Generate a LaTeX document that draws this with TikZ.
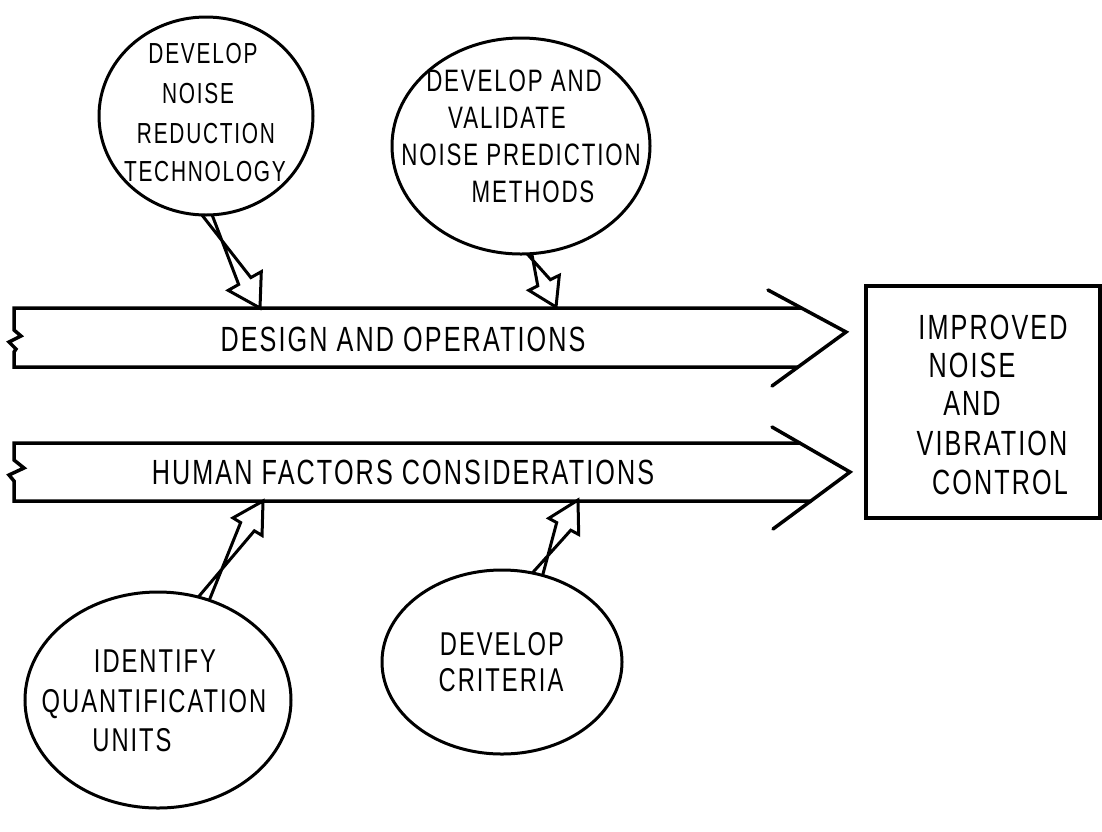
\documentclass[tikz,border=0pt]{standalone}
\usepackage{fontspec}
\setmainfont{Liberation Sans}[FakeStretch=0.72, LetterSpace=6]
\usetikzlibrary{calc,shapes.geometric}

\tikzset{
  ink/.style={line width=3.5pt, line join=miter, line cap=round},
  bubble/.style={draw, ellipse, line width=3pt, fill=white, inner sep=0pt},
  hollow/.style={line width=3pt, line join=miter, line cap=round},
  lbl/.style={font=\fontsize{35}{40}\selectfont, inner sep=0pt,
              text height=25pt, text depth=0pt, anchor=center},
  mlbl/.style={lbl, font=\fontsize{33}{38}\selectfont, text height=24pt},
  nlbl/.style={lbl, font=\fontsize{31}{35}\selectfont, text height=22pt},
  slbl/.style={lbl, font=\fontsize{29}{33}\selectfont, text height=21pt},
}

% hollow block arrow: tail, tip, half shaft width, half head width, head length
\newcommand\blockarrow[5]{%
  \coordinate (ba-base) at ($(#2)!#5!(#1)$);
  \draw[hollow] ($(#1)!#3!90:(#2)$) -- ($(ba-base)!#3!-90:(#2)$)
    -- ($(ba-base)!#4!-90:(#2)$) -- (#2)
    -- ($(ba-base)!#4!90:(#2)$) -- ($(ba-base)!#3!90:(#2)$)
    -- ($(#1)!#3!-90:(#2)$);
}

\begin{document}
\begin{tikzpicture}[x=1pt, y=-1pt]
\useasboundingbox (0,0) rectangle (1102,831);

% ---- the two flow bars ----
\draw[ink] (801,308) -- (14,308) -- (14,330) -- (21,336) -- (9,342)
           -- (16,349) -- (14,352) -- (14,367) -- (798,367);
\draw[ink] (768,290) -- (846,332) -- (772,386);
\node[lbl] (design) at (403,339) {DESIGN AND OPERATIONS};

\draw[ink] (800,443) -- (14,443) -- (14,460) -- (24,468) -- (9,475)
           -- (14,481) -- (14,501) -- (811,501);
\draw[ink] (772,427) -- (850,472) -- (773,529);
\node[lbl] (human) at (403,472) {HUMAN FACTORS CONSIDERATIONS};

% ---- result box ----
\draw[ink] (866,286) rectangle (1100,518);
\node[lbl] (r1) at (993,327) {IMPROVED};
\node[lbl] (r2) at (972,365) {NOISE};
\node[lbl] (r3) at (972,403) {AND};
\node[lbl] (r4) at (992,443) {VIBRATION};
\node[lbl] (r5) at (1000,482) {CONTROL};

% ---- arrows into the bars ----
\coordinate (ta) at (199,200);  \coordinate (pa) at (260,308);
\coordinate (tb) at (522,238);  \coordinate (pb) at (556,307);
\coordinate (tc) at (196,612);  \coordinate (pc) at (263,501);
\coordinate (td) at (532,585);  \coordinate (pd) at (578,500);
\blockarrow{ta}{pa}{7pt}{19pt}{31pt}
\blockarrow{tb}{pb}{7pt}{17pt}{27pt}
\blockarrow{tc}{pc}{8pt}{17pt}{30pt}
\blockarrow{td}{pd}{8pt}{17pt}{30pt}

% ---- contributing activities ----
\node[bubble, minimum width=214pt, minimum height=198pt] (e1) at (206,116) {};
\node[slbl] (e1a) at (203,53)  {DEVELOP};
\node[slbl] (e1b) at (198,93)  {NOISE};
\node[slbl] (e1c) at (206,133) {REDUCTION};
\node[slbl] (e1d) at (205,171) {TECHNOLOGY};

\node[bubble, minimum width=258pt, minimum height=216pt] (e2) at (521,146) {};
\node[nlbl] (e2a) at (514,80)  {DEVELOP AND};
\node[nlbl] (e2b) at (507,117) {VALIDATE};
\node[nlbl] (e2c) at (521,154) {NOISE PREDICTION};
\node[nlbl] (e2d) at (533,191) {METHODS};

\node[bubble, minimum width=266pt, minimum height=216pt] (e3) at (158,700) {};
\node[mlbl] (e3a) at (155,660) {IDENTIFY};
\node[mlbl] (e3b) at (154,700) {QUANTIFICATION};
\node[mlbl] (e3c) at (132,739) {UNITS};

\node[bubble, minimum width=240pt, minimum height=184pt] (e4) at (502,662) {};
\node[mlbl] (e4a) at (502,643) {DEVELOP};
\node[mlbl] (e4b) at (501,679) {CRITERIA};
\end{tikzpicture}
\end{document}
